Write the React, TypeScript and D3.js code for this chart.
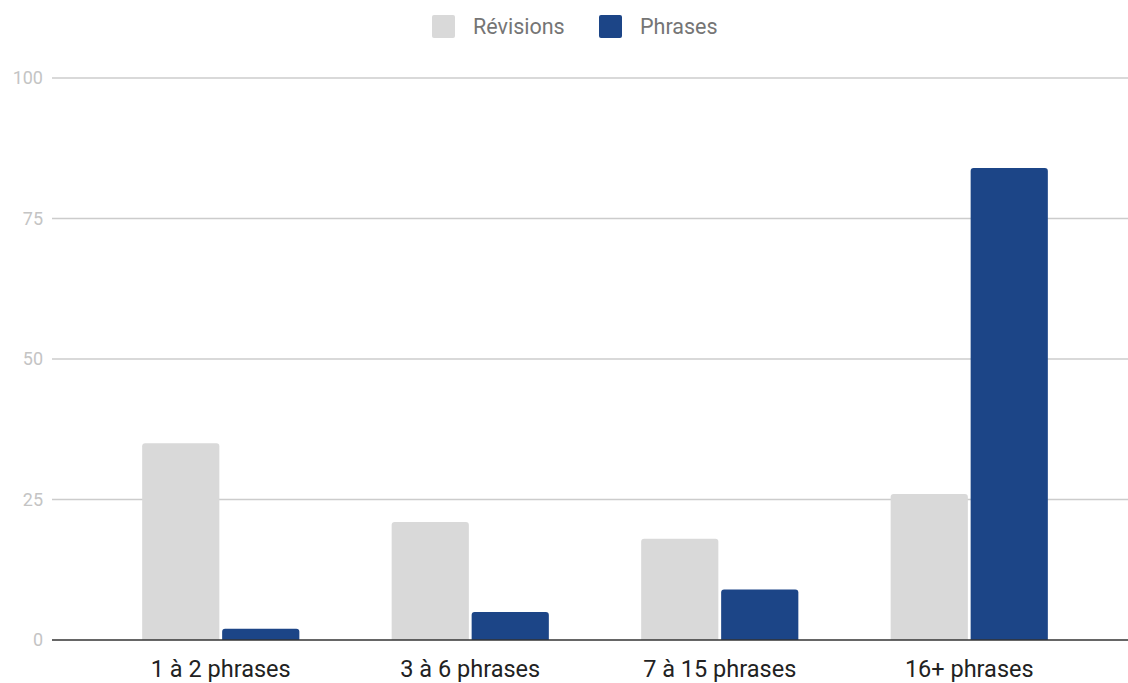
import React from "react";
import * as d3 from "d3";

// Share of each length bucket (%), by series
const categories = ["1 à 2 phrases", "3 à 6 phrases", "7 à 15 phrases", "16+ phrases"];
const seriesNames = ["Révisions", "Phrases"];
const revisions = [35, 21, 18, 26];
const phrases = [2, 5, 9, 84];
const yTicks = [0, 25, 50, 75, 100];
const colors = ["#d9d9d9", "#1c4587"];

const W = 1128;
const H = 683;
const FONT = "Roboto, 'Noto Sans', Arial, sans-serif";

// Rectangle with only its top corners rounded
function topRounded(x: number, y: number, w: number, h: number, r: number) {
  const rr = Math.min(r, h / 2, w / 2);
  if (h <= 0) return "";
  return `M${x},${y + h}V${y + rr}Q${x},${y} ${x + rr},${y}H${x + w - rr}Q${x + w},${y} ${x + w},${y + rr}V${y + h}Z`;
}

export default function App() {
  const values = [revisions, phrases];
  const x = d3.scaleBand<string>().domain(categories).range([96, 1094]).paddingInner(0.37).paddingOuter(0.185);
  const xs = d3.scaleBand<string>().domain(seriesNames).range([0, x.bandwidth()]).paddingInner(0.035);
  const y = d3.scaleLinear().domain([0, 100]).range([640, 78]);

  return (
    <div style={{ position: "fixed", left: 0, top: 0 }}>
      <svg width={W} height={H} style={{ display: "block", background: "#fff" }} fontFamily={FONT}>
        {/* legend */}
        <g>
          <rect x={432} y={15} width={23} height={23} rx={2} fill={colors[0]} />
          <text x={473} y={34} fontSize={21.5} fill="#757575">{seriesNames[0]}</text>
          <rect x={599} y={15} width={23} height={23} rx={2} fill={colors[1]} />
          <text x={640} y={34} fontSize={21.5} fill="#757575">{seriesNames[1]}</text>
        </g>
        {/* gridlines and y labels */}
        {yTicks.map((t) => (
          <g key={t}>
            {t !== 0 && (
              <line x1={52} x2={W} y1={y(t)} y2={y(t)} stroke="#cccccc" strokeWidth={1.5} />
            )}
            <text x={43} y={y(t)} dy="0.35em" textAnchor="end" fontSize={18} fill="#c4c4c4">
              {t}
            </text>
          </g>
        ))}
        {/* bars */}
        {categories.map((c, i) => (
          <g key={c} transform={`translate(${x(c)},0)`}>
            {seriesNames.map((s, j) => {
              const v = values[j][i];
              return (
                <path
                  key={s}
                  d={topRounded(xs(s)!, y(v), xs.bandwidth(), y(0) - y(v), 3)}
                  fill={colors[j]}
                />
              );
            })}
          </g>
        ))}
        {/* baseline */}
        <line x1={52} x2={W} y1={y(0)} y2={y(0)} stroke="#333333" strokeWidth={1.5} />
        {/* category labels */}
        {categories.map((c) => (
          <text
            key={c}
            x={x(c)! + x.bandwidth() / 2}
            y={677}
            textAnchor="middle"
            fontSize={23.5}
            fill="#222222"
          >
            {c}
          </text>
        ))}
      </svg>
    </div>
  );
}
